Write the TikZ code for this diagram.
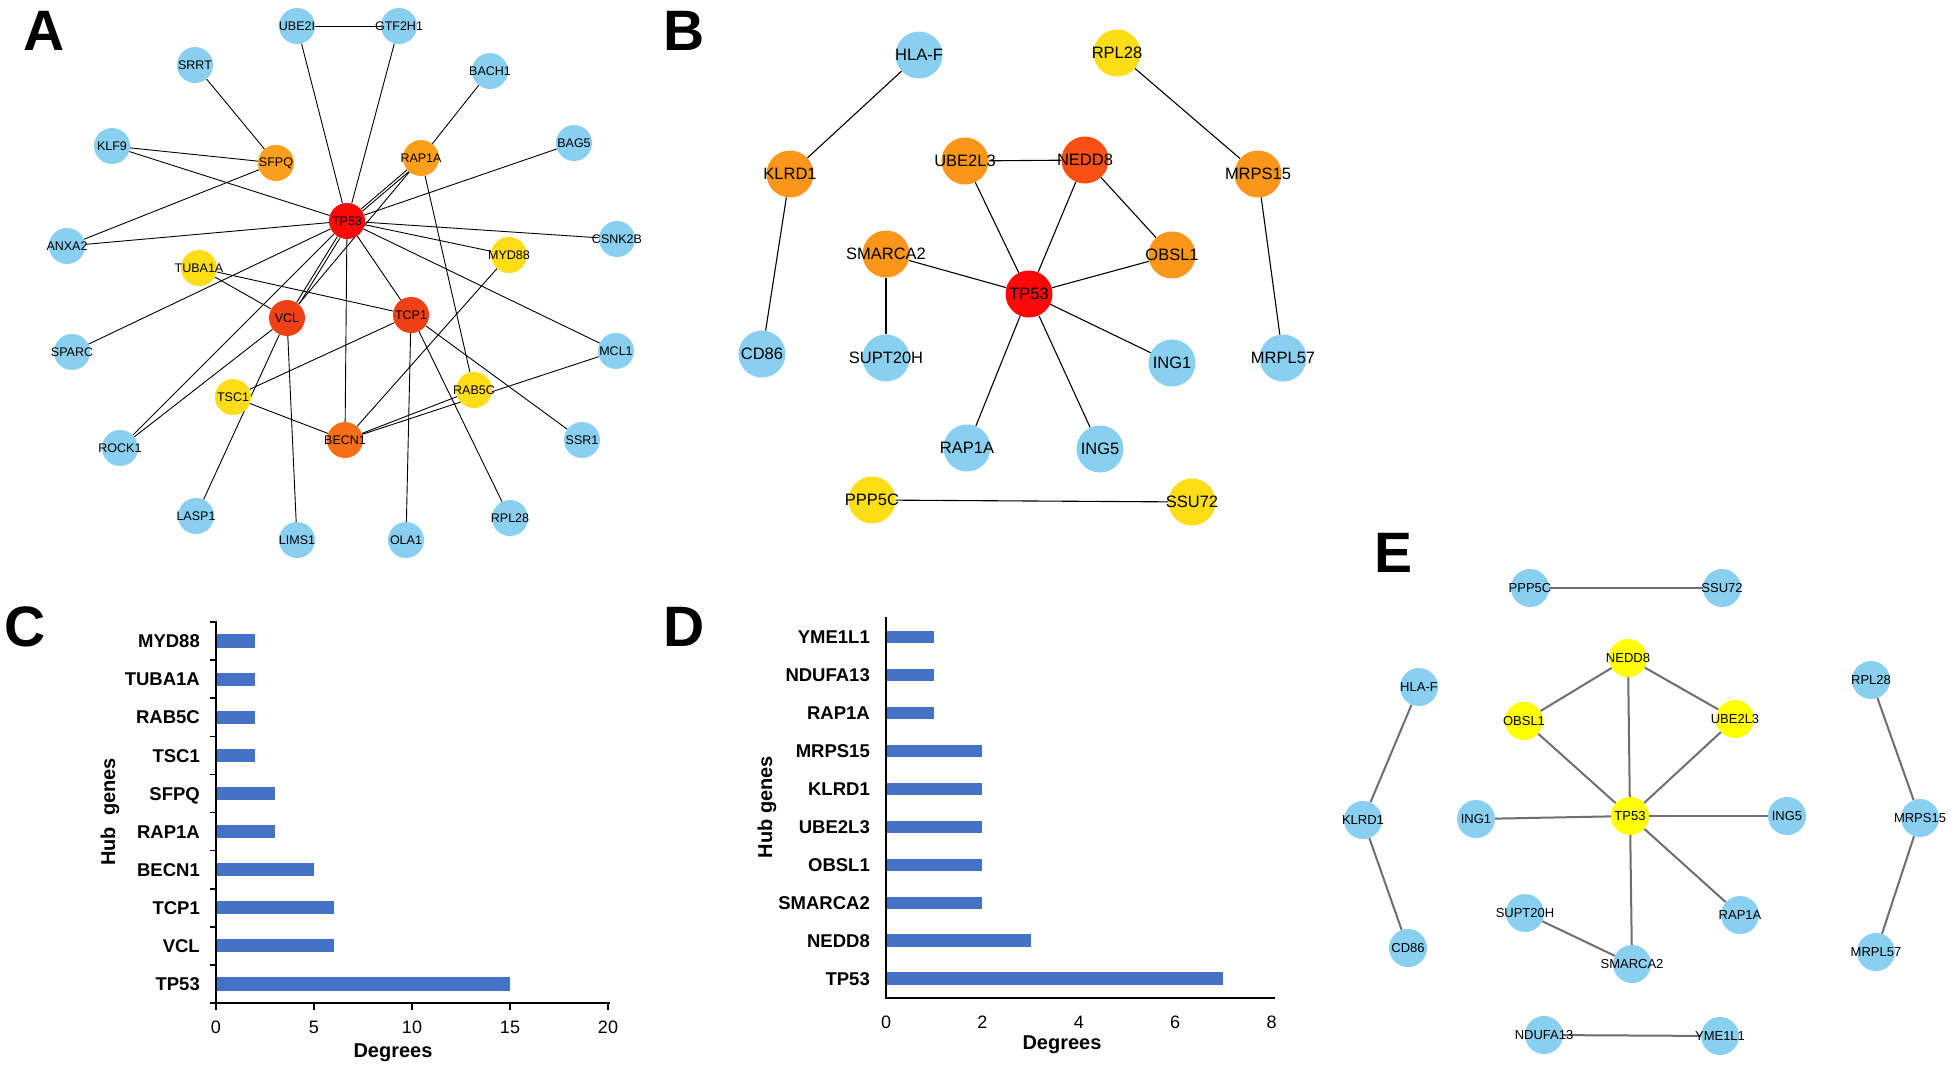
\documentclass[tikz,border=0pt]{standalone}
\usepackage{fontspec}
\setmainfont{Liberation Sans}
\usetikzlibrary{backgrounds}
\definecolor{gblue}{RGB}{137,207,240}
\definecolor{gred}{RGB}{252,8,8}
\definecolor{gredor}{RGB}{240,64,22}
\definecolor{gdkor}{RGB}{250,110,20}
\definecolor{gorange}{RGB}{252,160,28}
\definecolor{gorb}{RGB}{250,150,25}
\definecolor{gnedd}{RGB}{250,80,20}
\definecolor{gyellow}{RGB}{252,221,22}
\definecolor{gyel}{RGB}{255,255,0}
\definecolor{barblue}{RGB}{68,114,196}
\definecolor{egray}{RGB}{110,110,110}
\tikzset{%
   gene/.style={circle, inner sep=0pt, fill=gblue,
      execute at begin node={\hbox to 0pt\bgroup\hss},
      execute at end node={\hss\egroup}},
   ga/.style={gene, minimum size=36pt, font=\fontsize{12.5}{14}\selectfont},
   gb/.style={gene, minimum size=47pt, font=\fontsize{16.5}{18}\selectfont},
   ge/.style={gene, minimum size=38pt, font=\fontsize{13}{15}\selectfont},
   edgeA/.style={draw=black, line width=0.9pt},
   edgeB/.style={draw=black, line width=1.1pt},
   edgeE/.style={draw=egray, line width=2pt},
   twin/.style={transform canvas={shift={(#1)}}},
   panel/.style={inner sep=0pt, font=\fontsize{57}{60}\selectfont\bfseries},
   axis/.style={line width=1.6pt, line cap=rect},
   bar/.style={fill=barblue},
   hublab/.style={inner sep=0pt, font=\fontsize{18.5}{20}\selectfont\bfseries},
   ticklab/.style={inner sep=0pt, font=\fontsize{18}{20}\selectfont},
   axtitle/.style={inner sep=0pt, font=\fontsize{20}{22}\selectfont\bfseries},
}
\begin{document}
\begin{tikzpicture}[x=1pt, y=-1pt]
\useasboundingbox (0,0) rectangle (1951,1069);

% ---- A: hub network
\node[panel] (labA) at (44,31) {A};
\node[ga] (aUBE2I) at (297,26) {UBE2I};
\node[ga] (aGTF2H1) at (399,26) {GTF2H1};
\node[ga] (aSRRT) at (195,65) {SRRT};
\node[ga] (aBACH1) at (490,71) {BACH1};
\node[ga] (aKLF9) at (112,146) {KLF9};
\node[ga, fill=gorange] (aSFPQ) at (276,163) {SFPQ};
\node[ga, fill=gorange] (aRAP1A) at (421,158) {RAP1A};
\node[ga] (aBAG5) at (574,143) {BAG5};
\node[ga, fill=gred] (aTP53) at (347,221) {TP53};
\node[ga] (aANXA2) at (67,246) {ANXA2};
\node[ga] (aCSNK2B) at (617,239) {CSNK2B};
\node[ga, fill=gyellow] (aMYD88) at (509,255) {MYD88};
\node[ga, fill=gyellow] (aTUBA1A) at (199,268) {TUBA1A};
\node[ga, fill=gredor] (aVCL) at (287,318) {VCL};
\node[ga, fill=gredor] (aTCP1) at (411,315) {TCP1};
\node[ga] (aSPARC) at (72,352) {SPARC};
\node[ga] (aMCL1) at (616,351) {MCL1};
\node[ga, fill=gyellow] (aTSC1) at (233,397) {TSC1};
\node[ga, fill=gyellow] (aRAB5C) at (474,390) {RAB5C};
\node[ga] (aROCK1) at (120,448) {ROCK1};
\node[ga, fill=gdkor] (aBECN1) at (345,440) {BECN1};
\node[ga] (aSSR1) at (582,440) {SSR1};
\node[ga] (aLASP1) at (196,516) {LASP1};
\node[ga] (aLIMS1) at (297,540) {LIMS1};
\node[ga] (aOLA1) at (406,540) {OLA1};
\node[ga] (aRPL28) at (510,518) {RPL28};

% ---- B: subnetwork
\node[panel] (labB) at (684,31) {B};
\node[gb] (bHLAF) at (919,55) {HLA-F};
\node[gb, fill=gyellow] (bRPL28) at (1117,53) {RPL28};
\node[gb, fill=gorb] (bKLRD1) at (790,174) {KLRD1};
\node[gb, fill=gorb] (bUBE2L3) at (965,161) {UBE2L3};
\node[gb, fill=gnedd] (bNEDD8) at (1085,160) {NEDD8};
\node[gb, fill=gorb] (bMRPS15) at (1258,174) {MRPS15};
\node[gb, fill=gorb] (bSMARCA2) at (886,254) {SMARCA2};
\node[gb, fill=gorb] (bOBSL1) at (1172,255) {OBSL1};
\node[gb, fill=gred] (bTP53) at (1029,294) {TP53};
\node[gb] (bCD86) at (762,354) {CD86};
\node[gb] (bSUPT20H) at (886,358) {SUPT20H};
\node[gb] (bING1) at (1172,363) {ING1};
\node[gb] (bMRPL57) at (1283,358) {MRPL57};
\node[gb] (bRAP1A) at (967,448) {RAP1A};
\node[gb] (bING5) at (1100,449) {ING5};
\node[gb, fill=gyellow] (bPPP5C) at (872,500) {PPP5C};
\node[gb, fill=gyellow] (bSSU72) at (1192,502) {SSU72};

% ---- C: degrees of A
\node[panel] (labC) at (25,627) {C};
\draw[axis] (216,622) -- (216,1003) -- (609,1003);
\foreach \k in {0,...,10}
   \draw[axis] (211,{622+\k*38.1}) -- (216,{622+\k*38.1});
\foreach \g/\v [count=\i from 0] in {MYD88/2,TUBA1A/2,RAB5C/2,TSC1/2,SFPQ/3,RAP1A/3,BECN1/5,TCP1/6,VCL/6,TP53/15} {
   \fill[bar] (217,{634.4+\i*38.1}) rectangle ({216+\v*19.6},{647.6+\i*38.1});
   \node[hublab, anchor=base east] (c\g) at (200,{647.7+\i*38.1}) {\g};
}
\foreach \v in {0,5,10,15,20} {
   \draw[axis] ({216+\v*19.6},1003) -- ({216+\v*19.6},1009);
   \node[ticklab, anchor=base] (cx\v) at ({216+\v*19.6},1033) {\v};
}
\node[axtitle, anchor=base] (cdeg) at (393,1057) {Degrees};
\node[axtitle, rotate=90] (chub) at (110,812) {Hub\ \ genes};

% ---- D: degrees of B
\node[panel] (labD) at (684,627) {D};
\draw[axis] (886,618) -- (886,998) -- (1274,998);
\foreach \g/\v [count=\i from 0] in {YME1L1/1,NDUFA13/1,RAP1A/1,MRPS15/2,KLRD1/2,UBE2L3/2,OBSL1/2,SMARCA2/2,NEDD8/3,TP53/7} {
   \fill[bar] (887,{630.8+\i*37.96}) rectangle ({886+\v*48.2},{643.2+\i*37.96});
   \node[hublab, anchor=base east] (d\g) at (870,{643.7+\i*37.96}) {\g};
}
\foreach \v in {0,2,4,6,8}
   \node[ticklab, anchor=base] (dx\v) at ({886+\v*48.2},1028) {\v};
\node[axtitle, anchor=base] (ddeg) at (1062,1049) {Degrees};
\node[axtitle, rotate=90] (dhub) at (767,807) {Hub genes};

% ---- E: modules
\node[panel] (labE) at (1393,553) {E};
\node[ge] (ePPP5C) at (1530,588) {PPP5C};
\node[ge] (eSSU72) at (1722,588) {SSU72};
\node[ge, fill=gyel] (eNEDD8) at (1628,658) {NEDD8};
\node[ge] (eHLAF) at (1419,687) {HLA-F};
\node[ge] (eRPL28) at (1871,680) {RPL28};
\node[ge, fill=gyel] (eOBSL1) at (1524,721) {OBSL1};
\node[ge, fill=gyel] (eUBE2L3) at (1735,719) {UBE2L3};
\node[ge] (eKLRD1) at (1363,820) {KLRD1};
\node[ge] (eING1) at (1476,819) {ING1};
\node[ge, fill=gyel] (eTP53) at (1630,816) {TP53};
\node[ge] (eING5) at (1787,816) {ING5};
\node[ge] (eMRPS15) at (1920,818) {MRPS15};
\node[ge] (eSUPT20H) at (1525,913) {SUPT20H};
\node[ge] (eRAP1A) at (1740,915) {RAP1A};
\node[ge] (eCD86) at (1408,948) {CD86};
\node[ge] (eSMARCA2) at (1632,964) {SMARCA2};
\node[ge] (eMRPL57) at (1876,952) {MRPL57};
\node[ge] (eNDUFA13) at (1544,1035) {NDUFA13};
\node[ge] (eYME1L1) at (1720,1036) {YME1L1};

\begin{scope}[on background layer]
  \fill[white] (0,0) rectangle (1951,1069);
\end{scope}
\begin{scope}[on background layer]
  % A
  \draw[edgeA] (aUBE2I) -- (aGTF2H1);
  \draw[edgeA] (aUBE2I) -- (aTP53);
  \draw[edgeA] (aGTF2H1) -- (aTP53);
  \draw[edgeA] (aSRRT) -- (aSFPQ);
  \draw[edgeA] (aBACH1) -- (aRAP1A);
  \draw[edgeA] (aKLF9) -- (aSFPQ);
  \draw[edgeA] (aKLF9) -- (aTP53);
  \draw[edgeA] (aSFPQ) -- (aANXA2);
  \draw[edgeA] (aRAP1A) -- (aTP53);
  \draw[edgeA, twin={1.6,1.9}] (aRAP1A) -- (aTP53);
  \draw[edgeA] (aRAP1A) -- (aVCL);
  \draw[edgeA] (aRAP1A) -- (aRAB5C);
  \draw[edgeA] (aBAG5) -- (aTP53);
  \draw[edgeA] (aTP53) -- (aANXA2);
  \draw[edgeA] (aTP53) -- (aCSNK2B);
  \draw[edgeA] (aTP53) -- (aMYD88);
  \draw[edgeA] (aTP53) -- (aMCL1);
  \draw[edgeA] (aTP53) -- (aTCP1);
  \draw[edgeA] (aTP53) -- (aBECN1);
  \draw[edgeA] (aTP53) -- (aSPARC);
  \draw[edgeA] (aTP53) -- (aROCK1);
  \draw[edgeA] (aTP53) -- (aVCL);
  \draw[edgeA, twin={2.5,1.6}] (aTP53) -- (aVCL);
  \draw[edgeA] (aTUBA1A) -- (aVCL);
  \draw[edgeA] (aTUBA1A) -- (aTCP1);
  \draw[edgeA] (aVCL) -- (aROCK1);
  \draw[edgeA] (aVCL) -- (aLASP1);
  \draw[edgeA] (aVCL) -- (aLIMS1);
  \draw[edgeA] (aTCP1) -- (aTSC1);
  \draw[edgeA] (aTCP1) -- (aOLA1);
  \draw[edgeA] (aTCP1) -- (aRPL28);
  \draw[edgeA] (aTCP1) -- (aSSR1);
  \draw[edgeA] (aTSC1) -- (aBECN1);
  \draw[edgeA] (aBECN1) -- (aMYD88);
  \draw[edgeA] (aBECN1) -- (aRAB5C);
  \draw[edgeA] (aBECN1) -- (aMCL1);
  % B
  \draw[edgeB] (bHLAF) -- (bKLRD1);
  \draw[edgeB] (bKLRD1) -- (bCD86);
  \draw[edgeB] (bRPL28) -- (bMRPS15);
  \draw[edgeB] (bMRPS15) -- (bMRPL57);
  \draw[edgeB] (bUBE2L3) -- (bNEDD8);
  \draw[edgeB] (bUBE2L3) -- (bTP53);
  \draw[edgeB] (bNEDD8) -- (bTP53);
  \draw[edgeB] (bNEDD8) -- (bOBSL1);
  \draw[edgeB] (bSMARCA2) -- (bTP53);
  \draw[edgeB] (bSMARCA2) -- (bSUPT20H);
  \draw[edgeB] (bOBSL1) -- (bTP53);
  \draw[edgeB] (bTP53) -- (bING1);
  \draw[edgeB] (bTP53) -- (bRAP1A);
  \draw[edgeB] (bTP53) -- (bING5);
  \draw[edgeB] (bPPP5C) -- (bSSU72);
  % E
  \draw[edgeE] (ePPP5C) -- (eSSU72);
  \draw[edgeE] (eNEDD8) -- (eOBSL1);
  \draw[edgeE] (eNEDD8) -- (eUBE2L3);
  \draw[edgeE] (eNEDD8) -- (eTP53);
  \draw[edgeE] (eOBSL1) -- (eTP53);
  \draw[edgeE] (eUBE2L3) -- (eTP53);
  \draw[edgeE] (eHLAF) -- (eKLRD1);
  \draw[edgeE] (eKLRD1) -- (eCD86);
  \draw[edgeE] (eRPL28) -- (eMRPS15);
  \draw[edgeE] (eMRPS15) -- (eMRPL57);
  \draw[edgeE] (eING1) -- (eTP53);
  \draw[edgeE] (eTP53) -- (eING5);
  \draw[edgeE] (eTP53) -- (eRAP1A);
  \draw[edgeE] (eTP53) -- (eSMARCA2);
  \draw[edgeE] (eSUPT20H) -- (eSMARCA2);
  \draw[edgeE] (eNDUFA13) -- (eYME1L1);
\end{scope}
\end{tikzpicture}
\end{document}
